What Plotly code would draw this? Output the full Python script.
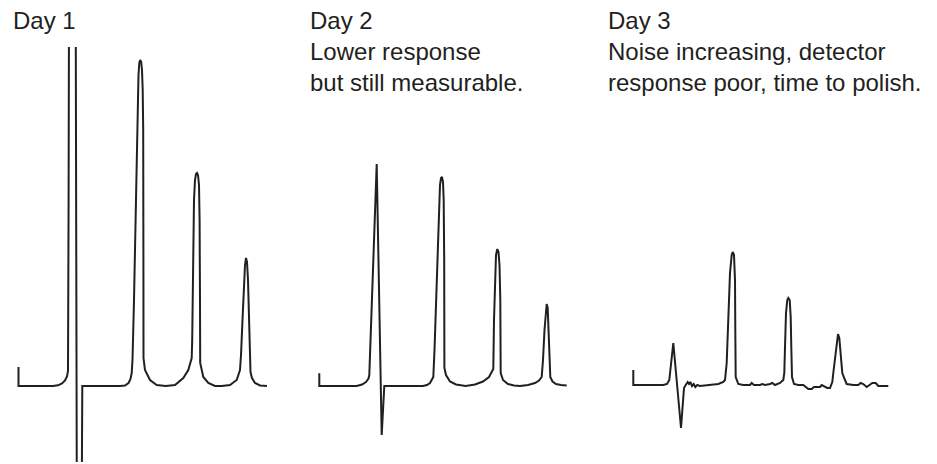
import plotly.graph_objects as go

# ---- data: time (s from injection) and detector response (mAU) ----
day1_time = [0, 0, 34.5, 39.5, 43.5, 46.5, 48.5, 49.5, 50.1, 50.5, 57.2, 57.8, 58.3, 63.3, 63.8,
             101.5, 106.5, 110, 112, 113.2, 114, 115.5, 117, 118.3, 119.3, 120, 120.8, 121.7, 122.7,
             123.5, 124.2, 124.7, 124.9, 125, 126.5, 131.5, 138.2, 147.2, 156.5, 164.8, 169.8, 173.2,
             173.7, 174.5, 175.5, 176.5, 177.5, 178.5, 179.5, 180.5, 181.1, 181.5, 181.7, 184.8, 189.8,
             196.5, 203.2, 211.5, 218.2, 221.5, 222.5, 224, 225.3, 226.5, 227.5, 228.5, 229.5, 230.5,
             231.3, 232, 233.5, 236.5, 241.5, 248.5]
day1_resp = [19, 0, 0, 0.7, 2.5, 5.5, 9.5, 15, 186, 380, 380, 186, -100, -100, 0,
             0, 0.5, 3, 7, 13, 26, 86, 166, 236, 286, 311, 323, 326, 324,
             316, 296, 256, 136, 28, 16, 6, 1, 0, 1, 8, 16, 28,
             46, 136, 186, 206, 212, 213, 211, 201, 166, 86, 23, 9, 3,
             0, 0, 1, 6, 16, 31, 66, 101, 121, 128, 124, 106, 66,
             26, 14, 8, 3, 0.5, 0]

day2_time = [0, 0, 37.4, 42.7, 46.7, 49.2, 50, 51.7, 53.7, 55.7, 57.4, 62.4, 65,
             103.7, 107.7, 110.7, 112.7, 114, 115.2, 116.7, 118.2, 119.7, 120.7, 121.7, 122.7, 123.7,
             124.4, 124.9, 125.1, 126.7, 130.7, 136.7, 146.4, 155.7, 163.7, 169.7, 173.2, 174,
             174.7, 175.7, 176.7, 178, 179.2, 180.2, 181, 181.4, 183.7, 188.7, 194.7, 200.7, 208.7,
             215.7, 219.7, 222.4, 223.7, 225.2, 226.4, 227.4, 228.4, 229.4, 230.2, 231, 233.2,
             236.7, 241.7, 247.4]
day2_resp = [12.7, 0, 0, 1.5, 4, 7.5, 11, 56, 116, 176, 222, -49, 0,
             0, 1, 3, 6, 9, 36, 86, 136, 181, 201, 208, 209, 204,
             186, 126, 18, 11, 4.5, 1.5, 0, 1.5, 4.5, 9, 15, 17,
             66, 111, 131, 137, 134, 121, 86, 13, 6, 2, 0.5, 0, 1,
             3, 5.5, 9, 26, 56, 76, 82, 78, 56, 26, 9, 4.5,
             2, 1, 0.5]

day3_time = [0, 0, 30, 33.7, 36, 40, 47.7, 50.7, 52.4, 54.4, 55.7, 57, 58.7, 60.4, 62, 64, 66.7,
             85, 90, 91.7, 93.4, 95, 96.7, 98.4, 99.4, 100.7, 101.7, 102, 102.4, 105, 108.4,
             110, 116.7, 118.4, 120.7, 126.7, 129, 131.7, 136.7, 139, 141.7, 146.7, 150,
             151, 151.7, 152.7, 154, 155, 156.4, 157.4, 158, 158.7, 160.7, 165, 170, 172.7,
             175, 178.4, 180.7, 184, 186.7, 188.4, 191.7, 194, 196.7, 199, 200, 201.7, 203.4,
             204.7, 206, 207.4, 209, 211.7, 213.4, 220, 225, 227.4, 230, 233.4, 236.7, 239,
             242.4, 245, 255]
day3_resp = [16, 1, 1, 2, 6, 43, -42, -2, 1, 4, 2, 4, 0, 2, -1, 1, 0,
             2, 4, 6, 23, 73, 113, 131, 134, 131, 106, 56, 9, 2, 1,
             1, 1, 3, 1, 1, 2, 1, 2, 3, 1, 3, 6,
             13, 39, 73, 86, 88, 86, 69, 39, 9, 2, 1, 1, -1,
             -3, -3, -1, -1, -1, 1, -1, -2, -2, 4, 13, 26, 43,
             52, 48, 29, 13, 6, 2, 1, 1, 3, 2, -1, 1, 3,
             3, 0, 0]

captions = ["Day 1",
            "Day 2<br>Lower response<br>but still measurable.",
            "Day 3<br>Noise increasing, detector<br>response poor, time to polish."]

# ---- layout constants ----
W, H = 937, 464
INK = "#231f20"
panels = [  # (left px, right px, origin px)
    (0, 300, 18.5),
    (300, 600, 319.3),
    (600, 937, 633.3),
]
y_top_px, y_bot_px, base_px = 47, 462, 386
caption_x_px = [10.5, 308, 606]

fig = go.Figure()
series = [(day1_time, day1_resp), (day2_time, day2_resp), (day3_time, day3_resp)]
for i, ((t, r), (l, rr, o)) in enumerate(zip(series, panels)):
    xa = "x" if i == 0 else f"x{i+1}"
    fig.add_trace(go.Scatter(x=t, y=r, mode="lines", xaxis=xa, yaxis="y",
                             line=dict(color=INK, width=2), hoverinfo="skip",
                             showlegend=False))
    key = "xaxis" if i == 0 else f"xaxis{i+1}"
    fig.layout[key] = dict(domain=[l / W, rr / W], range=[l - o, rr - o],
                           visible=False, fixedrange=True, anchor="y")

fig.update_layout(
    width=W, height=H,
    margin=dict(l=0, r=0, t=0, b=0),
    paper_bgcolor="white", plot_bgcolor="white",
    yaxis=dict(domain=[1 - y_bot_px / H, 1 - y_top_px / H],
               range=[base_px - y_bot_px, base_px - y_top_px],
               visible=False, fixedrange=True),
)

for cx, txt in zip(caption_x_px, captions):
    fig.add_annotation(x=cx / W, y=1 - 5 / H, xref="paper", yref="paper",
                       xanchor="left", yanchor="top", align="left",
                       text=txt, showarrow=False,
                       font=dict(family="Liberation Sans, Arial, sans-serif", size=24, color=INK))

fig.write_html("out.html", config={"displayModeBar": False},
               post_script="document.body.style.margin='0';")
